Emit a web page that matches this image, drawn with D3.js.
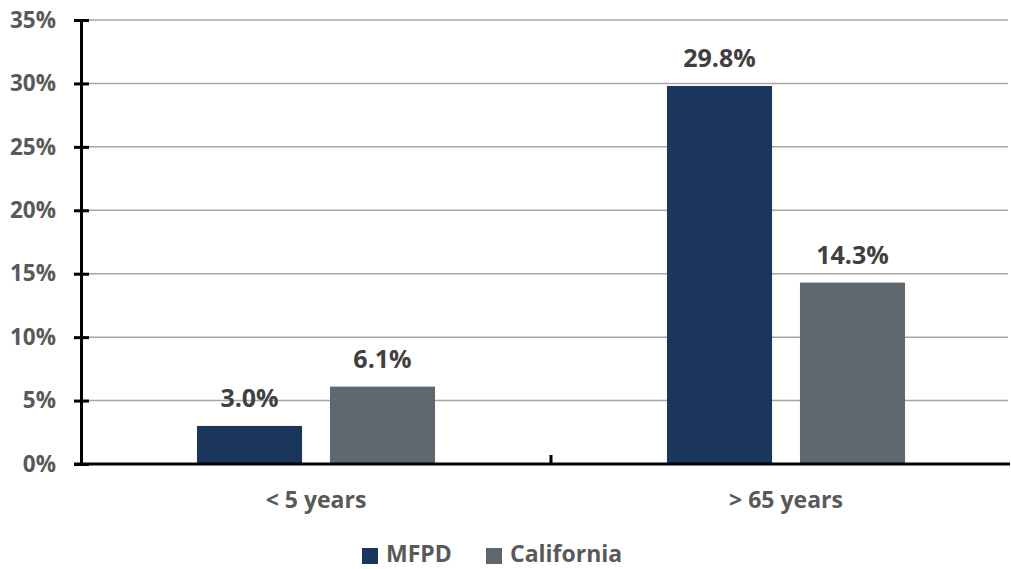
<!DOCTYPE html>
<html><head><meta charset="utf-8">
<script src="https://cdn.jsdelivr.net/npm/d3@7"></script>
<style>body{margin:0;background:#fff}svg{display:block;font-family:"Open Sans",sans-serif}</style>
</head><body><svg id="c" width="1011" height="569"></svg>
<script>
const categories = ["< 5 years", "> 65 years"];
const seriesNames = ["MFPD", "California"];
const mfpd = [3.0, 29.8];
const california = [6.1, 14.3];
const yTicks = [0, 5, 10, 15, 20, 25, 30, 35];
const colors = ["#1b365d", "#5f6770"];

(function(){
const svg = d3.select("#c");
const pL = 81, pR = 1021, pT = 20, pB = 464;
const x = d3.scaleBand().domain(categories).range([pL, pR]);
const y = d3.scaleLinear().domain([0, 35]).range([pB, pT]);
const xs = d3.scaleBand().domain(seriesNames).range([0, x.bandwidth()]).paddingInner(0.21).paddingOuter(0.872);

svg.append("g").selectAll("line").data(yTicks.filter(d => d > 0)).join("line")
  .attr("x1", pL).attr("x2", 1008).attr("y1", d => y(d)).attr("y2", d => y(d))
  .attr("stroke", "#a6a6a6").attr("stroke-width", 1.5);

const data = [mfpd, california];
const g = svg.append("g");
seriesNames.forEach((s, si) => {
  g.selectAll(".b" + si).data(categories).join("rect")
    .attr("x", c => x(c) + xs(s)).attr("width", xs.bandwidth())
    .attr("y", (c, i) => y(data[si][i])).attr("height", (c, i) => pB - y(data[si][i]))
    .attr("fill", colors[si]);
  g.selectAll(".l" + si).data(categories).join("text")
    .attr("x", c => x(c) + xs(s) + xs.bandwidth() / 2)
    .attr("y", (c, i) => y(data[si][i]) - 19)
    .attr("text-anchor", "middle").attr("font-size", 25).attr("font-weight", 700)
    .attr("fill", "#404040").text((c, i) => data[si][i].toFixed(1) + "%");
});

const ya = svg.append("g").attr("transform", `translate(${pL},0)`)
  .call(d3.axisLeft(y).tickValues(yTicks).tickFormat(d => d + "%").tickSize(8).tickSizeOuter(0));
ya.select(".domain").attr("stroke", "#000").attr("stroke-width", 3);
ya.selectAll(".tick line").attr("stroke", "#000").attr("stroke-width", 3).attr("x2", 8).attr("x1", -7);
ya.selectAll(".tick text").attr("x", -25).attr("font-size", 22.5).attr("font-weight", 700)
  .attr("fill", "#595959").attr("font-family", "Open Sans");

const xa = svg.append("g").attr("transform", `translate(0,${pB})`)
  .call(d3.axisBottom(x).tickSize(0).tickSizeOuter(0).tickPadding(28));
xa.select(".domain").attr("stroke", "#000").attr("stroke-width", 3).attr("d", `M${pL - 7},0H1010`);
xa.selectAll(".tick text").attr("font-size", 23).attr("font-weight", 700)
  .attr("fill", "#595959").attr("font-family", "Open Sans").attr("dy", "0.7em");
svg.append("g").selectAll("line").data(categories.slice(1)).join("line")
  .attr("x1", c => x(c)).attr("x2", c => x(c)).attr("y1", pB - 9).attr("y2", pB)
  .attr("stroke", "#000").attr("stroke-width", 3);

const leg = svg.append("g").attr("transform", "translate(362,554)");
const legPos = [0, 124];
seriesNames.forEach((s, i) => {
  leg.append("rect").attr("x", legPos[i]).attr("y", -6).attr("width", 16).attr("height", 16).attr("fill", colors[i]);
  leg.append("text").attr("x", legPos[i] + 24).attr("y", 0).attr("dy", "0.36em")
    .attr("font-size", 23).attr("font-weight", 700).attr("fill", "#595959").text(s);
});
})();
</script></body></html>
